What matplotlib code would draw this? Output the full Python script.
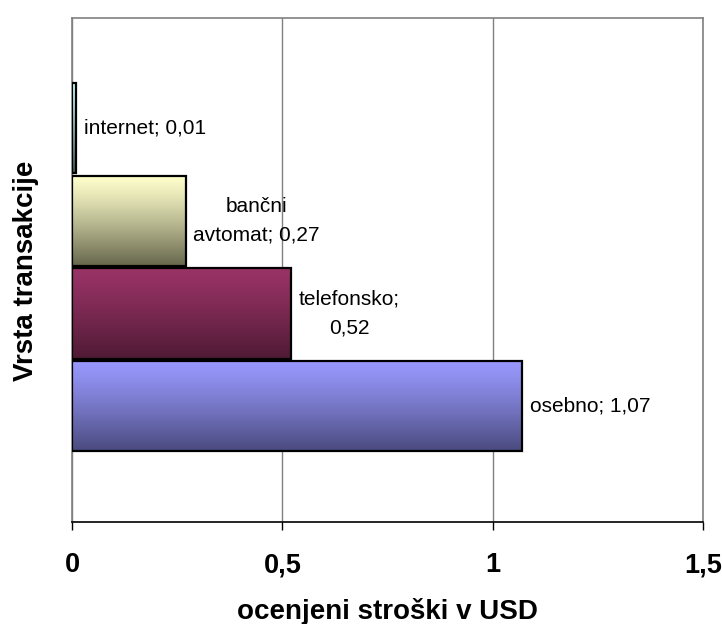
import numpy as np
import matplotlib
matplotlib.use("Agg")
import matplotlib.pyplot as plt
from matplotlib.colors import LinearSegmentedColormap

plt.rcParams['font.family'] = ['Liberation Sans', 'DejaVu Sans']

# transaction types, bottom to top
names = ["osebno", "telefonsko", "bančni\navtomat", "internet"]
costs = [1.07, 0.52, 0.27, 0.01]
breaks = [" ", "\n", " ", " "]
# gradient colours (top, bottom) of each bar
tops = ["#9999FF", "#993366", "#FFFFCC", "#CCFFFF"]
bottoms = ["#4A4A7E", "#4E1A34", "#66664C", "#3F5A5A"]

tick_vals = [0, 0.5, 1, 1.5]
tick_labels = ["0", "0,5", "1", "1,5"]

fig = plt.figure(figsize=(7.22, 6.24), dpi=100)
ax = fig.add_axes([72 / 722, 1 - 522 / 624, 631 / 722, 504 / 624])

h = 0.975
ramp = np.linspace(0, 1, 256) ** 1.2
ramp = ramp[:, None]
for i, (v, c0, c1) in enumerate(zip(costs, tops, bottoms)):
    cmap = LinearSegmentedColormap.from_list("g%d" % i, [c0, c1])
    ax.imshow(ramp, cmap=cmap, extent=(0, v, i - h / 2, i + h / 2),
              origin="upper", aspect="auto", zorder=2, interpolation="bilinear")
    ax.barh(i, v, height=h, color="none", edgecolor="black", linewidth=1.6, zorder=3)
    txt = "%s;%s%s" % (names[i], breaks[i], ("%.2f" % v).replace(".", ","))
    ax.annotate(txt, xy=(v, i), xytext=(5.5, 0), textcoords="offset points",
                ha="left", va="center", multialignment="center",
                fontsize=15, linespacing=1.65, zorder=4)

ax.set_xlim(0, 1.5)
ax.set_ylim(-1.25, 4.19)
ax.set_xticks(tick_vals)
ax.set_xticklabels(tick_labels, fontsize=19.5, fontweight="bold")
ax.set_yticks([])
ax.tick_params(axis="x", direction="out", length=5.8, width=1, pad=16, color="black")
ax.grid(axis="x", color="#808080", linewidth=1, zorder=1)
ax.set_axisbelow(True)
for side in ["top", "right", "left"]:
    ax.spines[side].set_color("#808080")
    ax.spines[side].set_linewidth(1.2)
ax.spines["bottom"].set_color("black")
ax.spines["bottom"].set_linewidth(1.2)

fig.text(387 / 722, 1 - 619 / 624, "ocenjeni stroški v USD", ha="center",
         va="baseline", fontsize=20, fontweight="bold")
fig.text(25.7 / 722, 1 - 271 / 624, "Vrsta transakcije", ha="center", va="center",
         rotation=90, fontsize=20, fontweight="bold")

fig.savefig("out.png", dpi=100)
